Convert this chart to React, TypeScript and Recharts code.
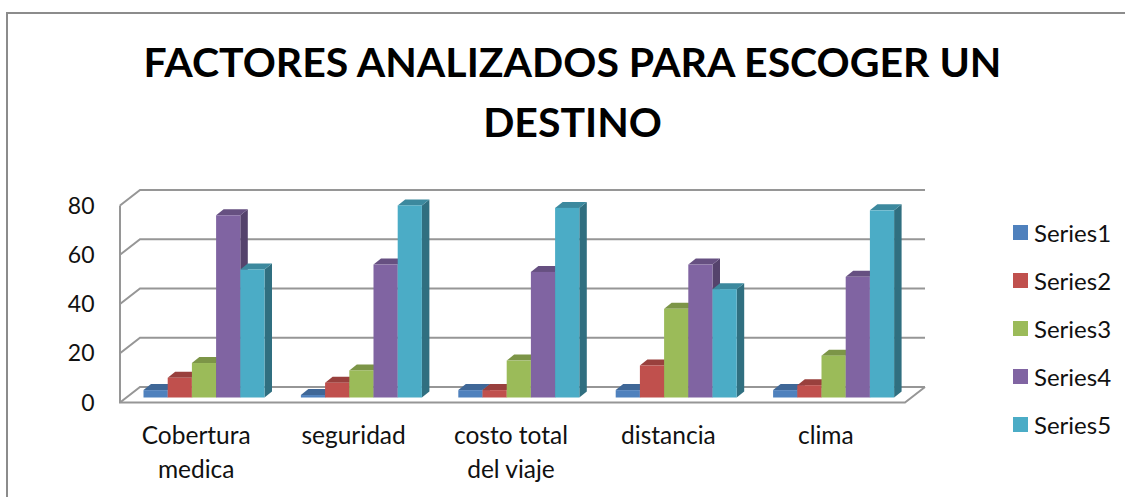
import { Bar, BarChart, CartesianGrid, Legend, Text, XAxis, YAxis } from "recharts";

const categories = ["Cobertura medica", "seguridad", "costo total del viaje", "distancia", "clima"];
const series1 = [3, 1, 3, 3, 3];
const series2 = [8, 6, 3, 13, 5];
const series3 = [14, 11, 15, 36, 17];
const series4 = [74, 54, 51, 54, 49];
const series5 = [52, 78, 77, 44, 76];
const yTicks = [0, 20, 40, 60, 80];

const chartData = categories.map((name, i) => ({
  name,
  Series1: series1[i],
  Series2: series2[i],
  Series3: series3[i],
  Series4: series4[i],
  Series5: series5[i],
}));

const seriesList = [
  { key: "Series1", front: "#4f81bd", top: "#3f6797", side: "#35587f" },
  { key: "Series2", front: "#c0504d", top: "#99403d", side: "#803634" },
  { key: "Series3", front: "#9bbb59", top: "#7c9547", side: "#677d3b" },
  { key: "Series4", front: "#8064a2", top: "#665081", side: "#55436c" },
  { key: "Series5", front: "#4bacc6", top: "#3c899e", side: "#306f80" },
];

const FONT = "Lato, 'Noto Sans', sans-serif";
const PLOT_TOP = 200.5;
const PLOT_BOTTOM = 397.5;
const WALL = "#969696";

function WallLine({ x1, x2, y1, index }: any) {
  const isFloor = Math.abs(y1 - PLOT_BOTTOM) < 1;
  const frontX = x1 - 5.5;
  const backX = x1 + 14.5;
  const backEnd = x2 + 12.5;
  const frontY = y1 + 5;
  const backY = y1 - 10.5;
  return (
    <g key={index} fill="none" stroke={WALL} strokeWidth={2}>
      <polyline points={`${frontX},${frontY} ${backX},${backY} ${backEnd},${backY}`} />
      {isFloor && (
        <polyline points={`${frontX},${PLOT_TOP + 5} ${frontX},${frontY} ${x2 - 7.5},${frontY} ${backEnd},${backY}`} />
      )}
    </g>
  );
}

function Bar3D({ x, y, width, height, fill, payloadKey }: any) {
  const colors = seriesList.find((s) => s.key === payloadKey) ?? seriesList[0];
  const dx = 7.5;
  const dy = 6;
  const right = x + width;
  const bottom = y + height;
  return (
    <g>
      <polygon points={`${right},${y} ${right + dx},${y - dy} ${right + dx},${bottom - dy} ${right},${bottom}`} fill={colors.side} />
      <polygon points={`${x},${y} ${x + dx},${y - dy} ${right + dx},${y - dy} ${right},${y}`} fill={colors.top} />
      <rect x={x} y={y} width={width} height={height} fill={fill} />
    </g>
  );
}

function CategoryTick({ x, y, payload }: any) {
  return (
    <Text
      x={x - 8}
      y={y + 21}
      width={88}
      textAnchor="middle"
      verticalAnchor="start"
      lineHeight={34}
      style={{ fontFamily: FONT, fontSize: 24.5 }}
      fill="#111"
    >
      {payload.value}
    </Text>
  );
}

function LegendList({ payload }: any) {
  return (
    <div>
      {payload.map((item: any) => (
        <div key={item.value} style={{ display: "flex", alignItems: "center", height: 48 }}>
          <span style={{ width: 15, height: 15, background: item.color, marginRight: 6 }} />
          <span style={{ fontFamily: FONT, fontSize: 24, color: "#111" }}>{item.value}</span>
        </div>
      ))}
    </div>
  );
}

export default function App() {
  return (
    <div style={{ position: "absolute", left: 0, top: 0, width: 1125, height: 497, background: "#fff", overflow: "hidden" }}>
      <div style={{ position: "absolute", left: 6, top: 12, width: 1119, height: 485, borderLeft: "2px solid #8c8c8c", borderTop: "2px solid #8c8c8c", boxSizing: "border-box" }} />
      <div
        style={{
          position: "absolute",
          left: 100,
          top: 32,
          width: 945,
          textAlign: "center",
          fontFamily: FONT,
          fontWeight: 700,
          fontSize: 41,
          lineHeight: "60px",
          color: "#000",
        }}
      >
        FACTORES ANALIZADOS PARA ESCOGER UN
        <br />
        DESTINO
      </div>
      <BarChart
        width={1125}
        height={497}
        data={chartData}
        barSize={24.2}
        barGap={0}
        margin={{ top: PLOT_TOP, right: 100.5, bottom: 0, left: 0 }}
        style={{ position: "absolute", left: 0, top: 0 }}
      >
        <CartesianGrid horizontal={WallLine} vertical={false} />
        <XAxis dataKey="name" height={99.5} axisLine={false} tickLine={false} interval={0} tick={CategoryTick} />
        <YAxis
          width={125.5}
          domain={[0, 80]}
          ticks={yTicks}
          axisLine={false}
          tickLine={false}
          tickSize={0}
          tickMargin={31}
          tick={{ fontFamily: FONT, fontSize: 23, fill: "#111", dy: 5 }}
        />
        <Legend
          layout="vertical"
          align="right"
          verticalAlign="middle"
          width={112}
          content={LegendList}
          wrapperStyle={{ left: 1013, top: 208, right: "auto", bottom: "auto" }}
        />
        {seriesList.map((s) => (
          <Bar
            key={s.key}
            dataKey={s.key}
            fill={s.front}
            isAnimationActive={false}
            shape={(props: any) => <Bar3D {...props} payloadKey={s.key} />}
          />
        ))}
      </BarChart>
    </div>
  );
}
